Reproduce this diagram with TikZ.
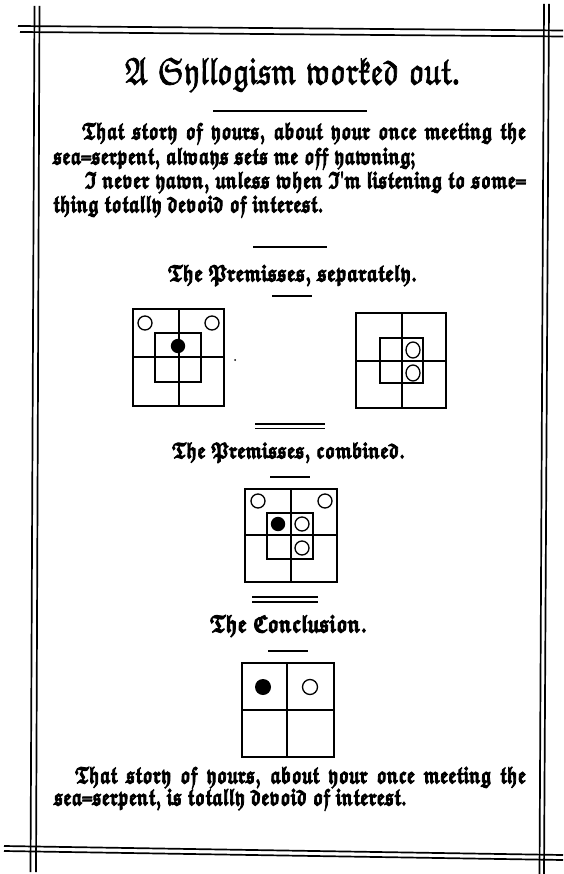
\documentclass[tikz,border=0pt]{standalone}
\usepackage{graphicx}
\newsavebox\measbox
\newcommand\frakmed{\usefont{U}{euf}{m}{n}\spaceskip=0.32em plus 0.3em minus 0.08em\relax}
\newcommand\frakbold{\usefont{U}{euf}{b}{n}\spaceskip=0.32em plus 0.3em minus 0.08em\relax}
% \fitw{width}{vertical stretch}{text}: scale text to a given width
\newcommand\fitw[3]{\sbox\measbox{#3}\pgfmathsetmacro\fa{#1/\the\wd\measbox}\pgfmathsetmacro\fb{\fa*#2}\scalebox{\fa}[\fb]{\usebox\measbox}}
% heavier strokes: fill + stroke text rendering
\newcommand\heavy[2]{\special{pdf:literal direct 2 Tr #1 w}#2\special{pdf:literal direct 0 Tr}}
\tikzset{
  frameline/.style={line width=1.7pt},
  rule/.style={line width=1.4pt},
  gridline/.style={line width=1.3pt},
  txt/.style={inner sep=0pt, outer sep=0pt},
  hollow/.style={line width=1.3pt, fill=white},
}
\begin{document}
\sbox\measbox{\frakbold sea=serpent, always sets me off yawning;}%
\edef\tmpw{\the\wd\measbox}%
\pgfmathsetmacro\bfac{362/\tmpw}%
\pgfmathsetmacro\bfacv{1.33*\bfac}%
\pgfmathsetmacro\wone{444/\bfac}%
\pgfmathsetmacro\wthree{441/\bfac}%
\pgfmathsetmacro\wfin{451/\bfac}%
\begin{tikzpicture}[x=1pt,y=-1pt]
\useasboundingbox (0,0) rectangle (563,874);
% ---------- frame ----------
\draw[frameline] (18,26) -- (563,30.5);
\draw[frameline] (20,32) -- (563,36.5);
\draw[frameline] (4,846) -- (563,855);
\draw[frameline] (4,851) -- (563,860);
\draw[frameline] (34.5,6) -- (30.5,872);
\draw[frameline] (39.5,6) -- (36,872);
\draw[frameline] (544,4) -- (539.5,874);
\draw[frameline] (549,4) -- (544,874);
% ---------- title ----------
\node[txt, anchor=base] (title) at (292.5,84) {\heavy{0.2}{\fitw{335}{1.2}{\frakmed A Syllogism worked out.}}};
\draw[rule] (213,111) -- (367,111);
% ---------- first paragraph ----------
\node[txt, anchor=base west] (l1) at (82,139) {\heavy{0.45}{\scalebox{\bfac}[\bfacv]{\makebox[\wone pt][s]{\frakbold That story of yours, about your once meeting the}}}};
\node[txt, anchor=base west] (l2) at (53,164) {\heavy{0.45}{\scalebox{\bfac}[\bfacv]{\frakbold sea=serpent, always sets me off yawning;}}};
\node[txt, anchor=base west] (l3) at (85,188) {\heavy{0.45}{\scalebox{\bfac}[\bfacv]{\makebox[\wthree pt][s]{\frakbold I never yawn, unless when I'm listening to some=}}}};
\node[txt, anchor=base west] (l4) at (53,212) {\heavy{0.45}{\scalebox{\bfac}[\bfacv]{\frakbold thing totally devoid of interest.}}};
\draw[rule] (253,247) -- (327,247);
% ---------- heading 1 ----------
\node[txt, anchor=base] (h1) at (292.5,281) {\heavy{0.45}{\fitw{249}{1.25}{\frakbold The Premisses, separately.}}};
\draw[rule] (272,296) -- (312,296);
% diagram 1
\draw[gridline] (133,309) rectangle (224,406);
\draw[gridline] (179,309) -- (179,406);
\draw[gridline] (133,357) -- (224,357);
\draw[gridline] (155,333) rectangle (201,382);
\draw[hollow] (145,323) circle (7);
\draw[hollow] (212,323) circle (7);
\fill[black] (178,346) circle (7.2);
\fill[black] (235,360) circle (1);
% diagram 2
\draw[gridline] (356,313) rectangle (446,408);
\draw[gridline] (402,313) -- (402,408);
\draw[gridline] (356,361) -- (446,361);
\draw[gridline] (380,338) rectangle (423,383);
\draw[hollow] (413,350) ellipse (7 and 8);
\draw[hollow] (413,373) ellipse (7 and 8);
% ---------- heading 2 ----------
\draw[rule] (255,424) -- (325,424);
\draw[rule] (255,428.5) -- (325,428.5);
\node[txt, anchor=base] (h2) at (288.5,458) {\heavy{0.45}{\fitw{233}{1.25}{\frakbold The Premisses, combined.}}};
\draw[rule] (270,477) -- (310,477);
% diagram 3
\draw[gridline] (245,489) rectangle (337,582);
\draw[gridline] (291,489) -- (291,582);
\draw[gridline] (245,535) -- (337,535);
\draw[gridline] (267,513) rectangle (313,559);
\draw[hollow] (258,501) circle (7);
\draw[hollow] (325,501) circle (7);
\fill[black] (278,524) circle (7.2);
\draw[hollow] (302,524) circle (7);
\draw[hollow] (302,548) circle (7);
% ---------- heading 3 ----------
\draw[rule] (252,597) -- (318,597);
\draw[rule] (252,602) -- (318,602);
\node[txt, anchor=base] (h3) at (288.5,632) {\heavy{0.45}{\fitw{157}{1.25}{\frakbold The Conclusion.}}};
\draw[rule] (268,651) -- (308,651);
% diagram 4
\draw[gridline] (242,663) rectangle (334,757);
\draw[gridline] (287,663) -- (287,757);
\draw[gridline] (242,710) -- (334,710);
\fill[black] (263,687) circle (8);
\draw[hollow] (310,687) circle (7.5);
% ---------- conclusion text ----------
\node[txt, anchor=base west] (c1) at (75,783) {\heavy{0.45}{\scalebox{\bfac}[\bfacv]{\makebox[\wfin pt][s]{\frakbold That story of yours, about your once meeting the}}}};
\node[txt, anchor=base west] (c2) at (54,805) {\heavy{0.45}{\scalebox{\bfac}[\bfacv]{\frakbold sea=serpent, is totally devoid of interest.}}};
\end{tikzpicture}
\end{document}
